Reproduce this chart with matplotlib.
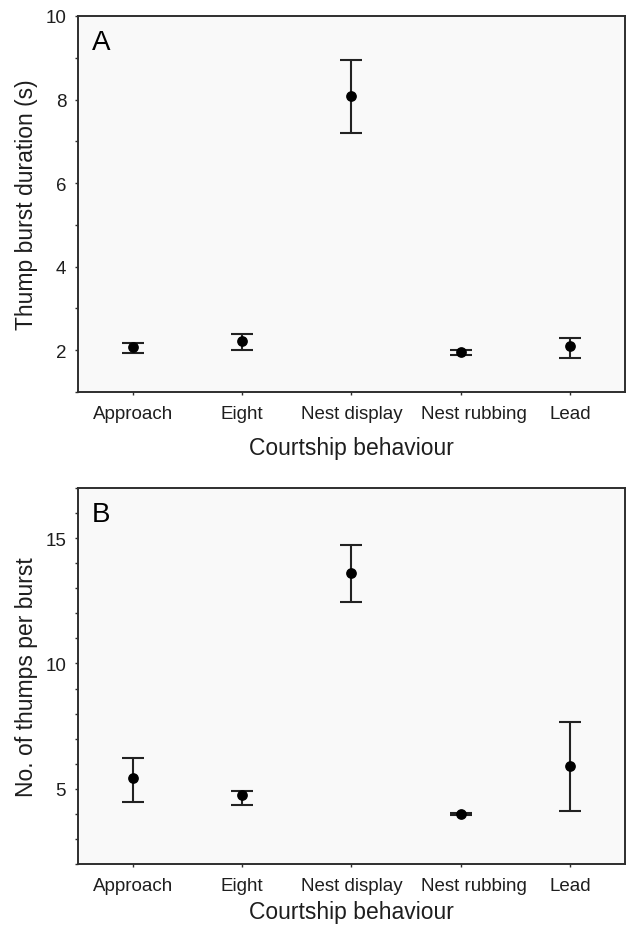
import matplotlib
matplotlib.use("Agg")
import numpy as np
import matplotlib.pyplot as plt
import matplotlib.ticker as ticker
import matplotlib.transforms as mtransforms

# ── Dados ─────────────────────────────────────────────────────────────────────

categories = ["Approach", "Eight", "Nest display", "Nest rubbing", "Lead"]

# A: duração do burst (s)
dur_mean  = [2.07, 2.21, 8.08, 1.95, 2.09]
dur_low   = [1.93, 2.01, 7.20, 1.89, 1.81]
dur_high  = [2.17, 2.39, 8.95, 2.01, 2.29]

# B: número de thumps por burst
num_mean  = [5.42, 4.76, 13.61, 4.00, 5.90]
num_low   = [4.48, 4.35, 12.46, 3.95, 4.13]
num_high  = [6.23, 4.93, 14.73, 4.05, 7.65]

# ── Estilo ────────────────────────────────────────────────────────────────────

TEXT_COL  = "#1e1e1e"
SPINE_COL = "#2e2e2e"
PANEL_BG  = "#f9f9f9"

plt.rcParams.update({
    "font.family":       ["Liberation Sans", "DejaVu Sans"],
    "text.color":        TEXT_COL,
    "axes.labelcolor":   TEXT_COL,
    "axes.edgecolor":    SPINE_COL,
    "axes.linewidth":    1.4,
    "xtick.color":       SPINE_COL,
    "ytick.color":       SPINE_COL,
    "xtick.labelcolor":  TEXT_COL,
    "ytick.labelcolor":  TEXT_COL,
})


def draw_panel(fig, ax, mean, low, high, ylim, major, ylabel, letter, xpad):
    x = np.arange(len(categories))
    mean = np.asarray(mean)
    yerr = [mean - np.asarray(low), np.asarray(high) - mean]
    ax.errorbar(x, mean, yerr=yerr, fmt="o", color="black", ecolor="#222222",
                elinewidth=1.5, capsize=8.2, capthick=1.5, markersize=6.7)

    ax.set_facecolor(PANEL_BG)
    ax.set_xlim(-0.5, len(categories) - 0.5)
    ax.set_ylim(*ylim)
    ax.set_xticks(x)
    ax.set_xticklabels(categories)
    ax.yaxis.set_major_locator(ticker.MultipleLocator(major))
    ax.yaxis.set_minor_locator(ticker.MultipleLocator(1))
    ax.tick_params(axis="both", which="both", direction="out", length=2.5,
                   width=1.0, labelsize=13.5)
    ax.tick_params(axis="y", pad=6)
    ax.tick_params(axis="x", pad=7)

    # "Nest rubbing" fica deslocado para a direita no original
    lab = ax.get_xticklabels()[3]
    lab.set_transform(lab.get_transform() +
                      mtransforms.ScaledTranslation(0.13, 0, fig.dpi_scale_trans))

    ax.set_xlabel("Courtship behaviour", fontsize=16.5, labelpad=xpad)
    ax.set_ylabel(ylabel, fontsize=16.5, labelpad=5)
    ax.text(0.025, 0.965, letter, transform=ax.transAxes, fontsize=20,
            va="top", ha="left", color="black")


fig = plt.figure(figsize=(6.27, 9.28), dpi=100)
fig.patch.set_facecolor("white")

ax_a = fig.add_axes([0.1244, 0.5765, 0.8724, 0.4052])
ax_b = fig.add_axes([0.1244, 0.0679, 0.8724, 0.4052])

draw_panel(fig, ax_a, dur_mean, dur_low, dur_high, (1, 10), 2,
           "Thump burst duration (s)", "A", 10)
draw_panel(fig, ax_b, num_mean, num_low, num_high, (2, 17), 5,
           "No. of thumps per burst", "B", 4)

fig.savefig("out.png", dpi=100, facecolor="white")
